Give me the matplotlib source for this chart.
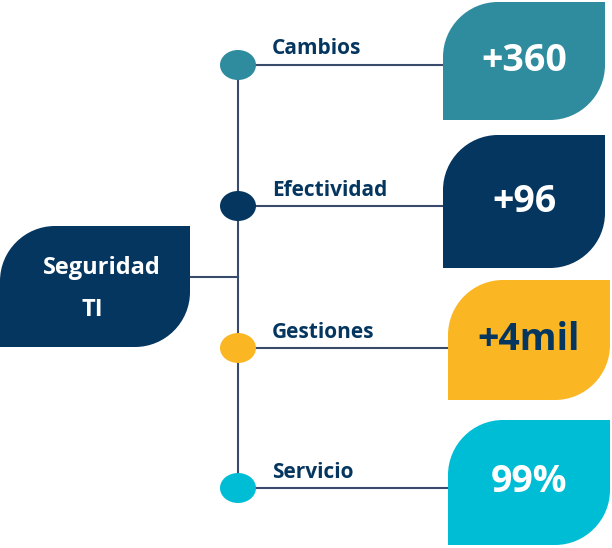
import matplotlib.pyplot as plt
from matplotlib.path import Path
import matplotlib.patches as mpatches

labels = ['Cambios', 'Efectividad', 'Gestiones', 'Servicio']
values = ['+360', '+96', '+4mil', '99%']
colors = ['#2E8C9E', '#05365F', '#FBB624', '#00BDD6']
title_lines = ['Seguridad', 'TI']
navy = '#05365F'

# layout in pixels
row_y = [65, 206, 348, 488]
box_x = [443, 443, 448, 448]
box_top = [2, 135, 280, 420]
box_bot = [120, 268, 400, 545]


def leaf(x0, y0, x1, y1, r):
    # rounded top-left and bottom-right corners, y down
    k = 0.55 * r
    verts = [(x0, y0 + r), (x0, y0 + r - k), (x0 + r - k, y0), (x0 + r, y0),
             (x1, y0), (x1, y1 - r),
             (x1, y1 - r + k), (x1 - r + k, y1), (x1 - r, y1),
             (x0, y1), (x0, y0 + r)]
    codes = [Path.MOVETO, Path.CURVE4, Path.CURVE4, Path.CURVE4,
             Path.LINETO, Path.LINETO,
             Path.CURVE4, Path.CURVE4, Path.CURVE4,
             Path.LINETO, Path.CLOSEPOLY]
    return Path(verts, codes)


fig = plt.figure(figsize=(6.12, 5.48), dpi=100)
ax = fig.add_axes([0, 0, 1, 1])
ax.set_xlim(0, 612)
ax.set_ylim(548, 0)
ax.axis('off')

font = 'Open Sans'

ax.plot([238, 238], [row_y[0], row_y[-1]], color='#3A4A6A', lw=1.5, zorder=1)
ax.plot([190, 238], [277, 277], color='#3A4A6A', lw=1.5, zorder=1)

ax.add_patch(mpatches.PathPatch(leaf(0, 226, 190, 347, 55), fc=navy, ec='none'))
ax.text(102, 268, title_lines[0], color='white', fontsize=17, fontweight='bold',
        family=font, ha='center', va='center')
ax.text(92, 310, title_lines[1], color='white', fontsize=17, fontweight='bold',
        family=font, ha='center', va='center')

for i in range(len(labels)):
    y = row_y[i]
    ax.plot([238, box_x[i]], [y, y], color='#3A4A6A', lw=1.5, zorder=1)
    ax.add_patch(mpatches.Ellipse((238, y), 36, 30, fc=colors[i], ec='none', zorder=2))
    ax.text(272, y - 16, labels[i], color=navy, fontsize=15, fontweight='bold',
            family=font, ha='left', va='center')
    ax.add_patch(mpatches.PathPatch(leaf(box_x[i], box_top[i], 605 if i < 2 else 610,
                                         box_bot[i], 55), fc=colors[i], ec='none', zorder=3))
    cx = (box_x[i] + (605 if i < 2 else 610)) / 2
    tc = navy if i == 2 else 'white'
    ax.text(cx, (box_top[i] + box_bot[i]) / 2, values[i], color=tc, fontsize=27,
            fontweight='bold', family=font, ha='center', va='center', zorder=4)

fig.savefig('out.png', dpi=100)
